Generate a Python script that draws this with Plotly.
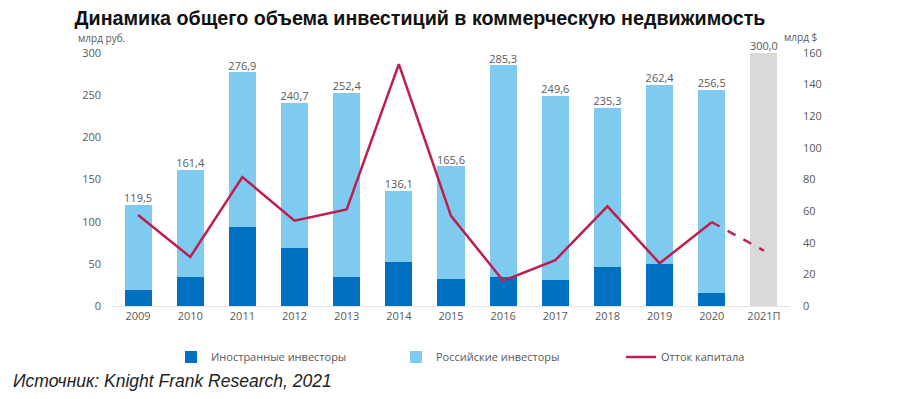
import plotly.graph_objects as go

years = ["2009", "2010", "2011", "2012", "2013", "2014", "2015", "2016",
         "2017", "2018", "2019", "2020", "2021П"]
total = [119.5, 161.4, 276.9, 240.7, 252.4, 136.1, 165.6, 285.3,
         249.6, 235.3, 262.4, 256.5, 300.0]
foreign = [19, 34, 93.5, 69, 34, 52, 32, 34, 31, 46, 50, 15]
outflow = [57.5, 31, 81.5, 54, 61, 153, 57, 16, 29, 63, 27, 53]
outflow_forecast = [53, 35]

hist_years = years[:12]
russian = [round(t - f, 1) for t, f in zip(total[:12], foreign)]
labels = [f"{v:.1f}".replace(".", ",") for v in total]

# page body has an 8px default margin -> shift all targets by 8px
OFF = 8
W, H = 900, 399
ML, MT = 112 - OFF, 53 - OFF
MR, MB = W - (790 - OFF), H - (306 - OFF)
PW, PH = W - ML - MR, H - MT - MB


def px(x):
    return (x - OFF - ML) / PW


def py(y):
    return (H - MB - (y - OFF)) / PH


TXT = "#595959"
FONT = "Open Sans, Noto Sans, sans-serif"

fig = go.Figure()
fig.add_trace(go.Bar(x=hist_years, y=foreign, name="Иностранные инвесторы",
                     marker=dict(color="#0070C0", line_width=0)))
fig.add_trace(go.Bar(x=hist_years, y=russian, name="Российские инвесторы",
                     marker=dict(color="#7FCBEF", line_width=0)))
fig.add_trace(go.Bar(x=[years[-1]], y=[total[-1]], showlegend=False,
                     marker=dict(color="#D9D9D9", line_width=0)))
fig.add_trace(go.Scatter(x=years, y=total, mode="text", text=labels,
                         textposition="top center", showlegend=False,
                         cliponaxis=False,
                         textfont=dict(size=11, color=TXT, family=FONT),
                         hoverinfo="skip"))
fig.add_trace(go.Scatter(x=hist_years, y=outflow, name="Отток капитала",
                         mode="lines", yaxis="y2",
                         line=dict(color="#BE1E4F", width=2.5)))
fig.add_trace(go.Scatter(x=years[11:], y=outflow_forecast, mode="lines",
                         yaxis="y2", showlegend=False,
                         line=dict(color="#B8245E", width=2.5, dash="dash")))

fig.update_layout(
    width=W, height=H,
    margin=dict(l=ML, r=MR, t=MT, b=MB, autoexpand=False),
    paper_bgcolor="white", plot_bgcolor="white",
    barmode="stack", bargap=0.48,
    font=dict(family=FONT, size=11, color=TXT),
    title=dict(text="<b>Динамика общего объема инвестиций в коммерческую недвижимость</b>",
               x=(420 - OFF) / W, xanchor="center", y=1 - (18 - OFF) / H, yanchor="middle",
               font=dict(family="Liberation Sans, Arial, sans-serif", size=19.7, color="#111111")),
    xaxis=dict(type="category", range=[-0.5, 12.5], showgrid=False,
               showline=True, linecolor="#E3E3E3", linewidth=1, ticks="",
               tickfont=dict(size=11, color=TXT)),
    yaxis=dict(range=[0, 300], dtick=50, showgrid=False, zeroline=False,
               showline=False, ticks="", ticklabelstandoff=10,
               tickfont=dict(size=11, color=TXT)),
    yaxis2=dict(range=[0, 160], dtick=20, overlaying="y", side="right",
                showgrid=False, zeroline=False, showline=False, ticks="",
                ticklabelstandoff=12, tickfont=dict(size=11, color=TXT)),
    legend=dict(orientation="h", xref="container", yref="container",
                traceorder="normal",
                x=(171 - OFF) / W, y=1 - (357 - OFF) / H, xanchor="left", yanchor="middle",
                entrywidth=180, font=dict(size=11, color=TXT, family=FONT),
                bgcolor="rgba(0,0,0,0)"),
    annotations=[
        dict(text="млрд руб.", xref="paper", yref="paper", x=px(76), y=py(38),
             xanchor="left", yanchor="middle", showarrow=False,
             font=dict(size=10, color=TXT, family=FONT)),
        dict(text="млрд $", xref="paper", yref="paper", x=px(782), y=py(37),
             xanchor="left", yanchor="middle", showarrow=False,
             font=dict(size=10, color=TXT, family=FONT)),
        dict(text="<i>Источник: Knight Frank Research, 2021</i>", xref="paper",
             yref="paper", x=px(11), y=py(381), xanchor="left", yanchor="middle",
             showarrow=False,
             font=dict(size=17.5, color="#222222", family="Liberation Sans, Arial, sans-serif")),
    ],
)

fig.write_html("out.html")
